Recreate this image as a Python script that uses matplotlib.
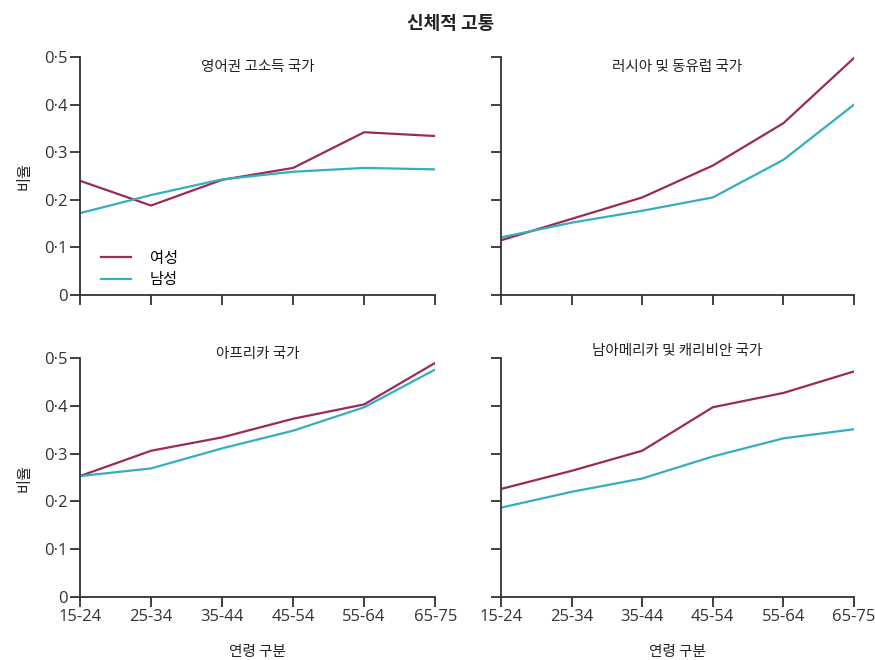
import numpy as np
import matplotlib
matplotlib.use("Agg")
import matplotlib.pyplot as plt

plt.rcParams['font.family'] = ['Noto Sans CJK KR', 'DejaVu Sans']

age_groups = ["15-24", "25-34", "35-44", "45-54", "55-64", "65-75"]
yticks = [0, 0.1, 0.2, 0.3, 0.4, 0.5]
ytick_labels = ["0", "0·1", "0·2", "0·3", "0·4", "0·5"]

titles = ["영어권 고소득 국가", "러시아 및 동유럽 국가", "아프리카 국가", "남아메리카 및 캐리비안 국가"]

female_english = [0.240, 0.188, 0.242, 0.267, 0.342, 0.334]
male_english = [0.172, 0.210, 0.243, 0.259, 0.267, 0.264]
female_russia = [0.115, 0.160, 0.205, 0.272, 0.361, 0.498]
male_russia = [0.121, 0.152, 0.177, 0.205, 0.284, 0.400]
female_africa = [0.253, 0.306, 0.334, 0.373, 0.403, 0.490]
male_africa = [0.253, 0.269, 0.311, 0.348, 0.397, 0.476]
female_latam = [0.226, 0.264, 0.306, 0.397, 0.427, 0.472]
male_latam = [0.187, 0.220, 0.248, 0.294, 0.332, 0.351]

female = [female_english, female_russia, female_africa, female_latam]
male = [male_english, male_russia, male_africa, male_latam]

c_female = "#9c2a58"
c_male = "#35aebd"

fig = plt.figure(figsize=(8.75, 6.6), dpi=100)
positions = [
    [0.0914, 0.553, 0.406, 0.3606],
    [0.5726, 0.553, 0.4034, 0.3606],
    [0.0914, 0.0955, 0.406, 0.362],
    [0.5726, 0.0955, 0.4034, 0.362],
]
title_y = [0.96, 0.96, 1.015, 1.03]

x = np.arange(len(age_groups))
for i, pos in enumerate(positions):
    ax = fig.add_axes(pos)
    ax.plot(x, female[i], color=c_female, lw=1.6, label="여성")
    ax.plot(x, male[i], color=c_male, lw=1.6, label="남성")
    ax.set_xlim(0, 5)
    ax.set_ylim(0, 0.5)
    ax.set_xticks(x)
    ax.set_yticks(yticks)
    for s in ["top", "right"]:
        ax.spines[s].set_visible(False)
    for s in ["left", "bottom"]:
        ax.spines[s].set_color("#333333")
        ax.spines[s].set_linewidth(1.3)
    ax.tick_params(direction="out", length=7, width=1.3, color="#333333",
                   labelsize=12, labelcolor="#333333", pad=2)
    if i >= 2:
        ax.set_xticklabels(age_groups, family="Open Sans")
        ax.set_xlabel("연령 구분", fontsize=10.5, labelpad=14, color="#222222")
    else:
        ax.set_xticklabels([])
    if i % 2 == 0:
        ax.set_yticklabels(ytick_labels, family="Open Sans")
        ax.set_ylabel("비율", fontsize=11, labelpad=8, color="#222222")
    else:
        ax.set_yticklabels([])
    ax.text(0.5, title_y[i], titles[i], transform=ax.transAxes, ha="center",
            va="center", fontsize=10.5, color="#222222")
    if i == 0:
        ax.legend(loc="lower left", bbox_to_anchor=(0.02, -0.03), frameon=False,
                  fontsize=11, handlelength=2.0, handletextpad=1.2,
                  labelspacing=0.3)

fig.text(0.515, 0.965, "신체적 고통", ha="center", va="center", fontsize=13,
         fontweight="bold", color="#222222")

plt.savefig("out.png", dpi=100)
